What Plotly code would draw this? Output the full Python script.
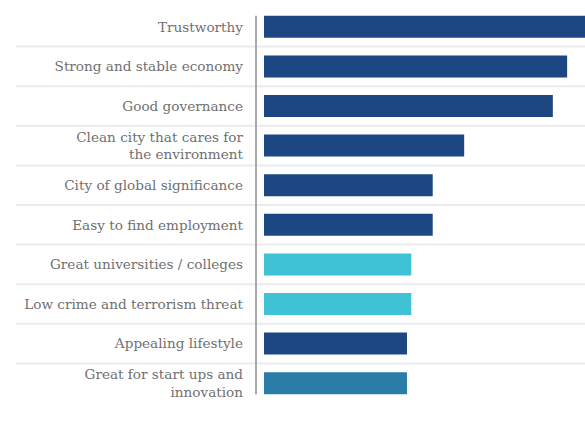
import plotly.graph_objects as go

categories = [
    "Trustworthy",
    "Strong and stable economy",
    "Good governance",
    "Clean city that cares for<br>the environment",
    "City of global significance",
    "Easy to find employment",
    "Great universities / colleges",
    "Low crime and terrorism threat",
    "Appealing lifestyle",
    "Great for start ups and<br>innovation",
]
values = [46, 42.4, 40.4, 28.0, 23.6, 23.6, 20.6, 20.6, 20.0, 20.0]
bar_colors = ["#1c4783", "#1c4783", "#1c4783", "#1c4783", "#1c4783",
              "#1c4783", "#3ec2d4", "#3ec2d4", "#1c4783", "#2b7da7"]

W, H = 585, 423
L, R, T, B = 264, 0, 7, 20
x_max = 44.9
plot_w = W - L - R

fig = go.Figure(go.Bar(
    x=values, y=categories, orientation="h",
    marker=dict(color=bar_colors, line=dict(width=0)),
    hoverinfo="skip",
))

n = len(categories)
half = (1 - 0.444) / 2
shapes = []
for i in range(n - 1):
    shapes.append(dict(type="line", xref="paper", yref="y",
                       x0=(16 - L) / plot_w, x1=1, y0=i + 0.5, y1=i + 0.5,
                       line=dict(color="#ebebeb", width=2), layer="below"))
shapes.append(dict(type="line", xref="paper", yref="y",
                   x0=(256 - L) / plot_w, x1=(256 - L) / plot_w,
                   y0=-half, y1=n - 1 + half,
                   line=dict(color="#a8a8a8", width=2)))

fig.update_layout(
    width=W, height=H,
    margin=dict(l=L, r=R, t=T, b=B, pad=0),
    paper_bgcolor="white", plot_bgcolor="white",
    bargap=0.444,
    showlegend=False,
    shapes=shapes,
    font=dict(family="DejaVu Serif", size=13.6, color="#707070"),
    xaxis=dict(range=[0, x_max], visible=False, fixedrange=True),
    yaxis=dict(range=[n - 0.5, -0.5], showgrid=False, zeroline=False,
               showline=False, ticks="", ticklabelstandoff=20, fixedrange=True,
               tickfont=dict(family="DejaVu Serif", size=13.6, color="#707070")),
)

fig.write_html(
    "out.html",
    config={"displayModeBar": False, "staticPlot": True},
    post_script="document.body.style.margin='0';document.body.style.overflow='hidden';",
)
